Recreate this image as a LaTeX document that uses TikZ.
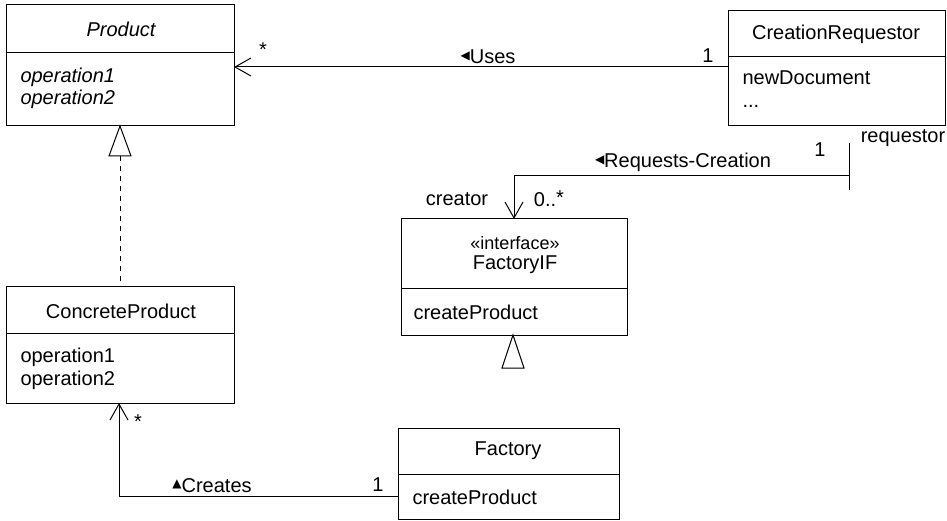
\documentclass[tikz,border=0pt]{standalone}
\usepackage{fontspec}
\setmainfont{Liberation Sans}
\newfontfamily\symfont{DejaVu Sans}
\usetikzlibrary{arrows.meta}
\newcommand{\ltri}{{\symfont\fontsize{12}{12}\selectfont\raisebox{4pt}{◀}}}
\newcommand{\utri}{{\symfont\fontsize{12}{12}\selectfont\raisebox{5pt}{▲}}}
\begin{document}
\begin{tikzpicture}[x=1pt,y=-1pt,line width=1pt,
  box/.style={draw,anchor=north west,inner sep=0pt,outer sep=0pt},
  txt/.style={inner sep=0pt,font=\fontsize{20}{24}\selectfont},
  ltxt/.style={txt,anchor=west},
  itxt/.style={ltxt,font=\fontsize{20}{24}\selectfont\itshape},
  barb/.style={-{Straight Barb[length=16pt,width=18pt,line width=1pt]}},
  gentri/.style={draw,line width=1pt,fill=white}
]
\useasboundingbox (0,0) rectangle (947,521);

% Product
\node[box,minimum width=228pt,minimum height=121pt] (product) at (6,5) {};
\draw (6,53) -- (234,53);
\node[txt,font=\fontsize{20}{24}\selectfont\itshape] (productT) at (121,29) {Product};
\node[itxt] (productO1) at (20,77) {operation1};
\node[itxt] (productO2) at (20,99) {operation2};

% CreationRequestor
\node[box,minimum width=217pt,minimum height=115pt] (creq) at (728,11) {};
\draw (728,57) -- (945,57);
\node[txt] (creqT) at (836,34) {CreationRequestor};
\node[ltxt] (creqO1) at (742,78) {newDocument};
\node[ltxt] (creqO2) at (742,106) {...};

% FactoryIF
\node[box,minimum width=226pt,minimum height=116pt] (fif) at (401,219) {};
\draw (401,288) -- (627,288);
\node[txt,font=\fontsize{18}{22}\selectfont] (fifS) at (515,243) {«interface»};
\node[txt] (fifT) at (515,265) {FactoryIF};
\node[ltxt] (fifO1) at (413,312) {createProduct};

% ConcreteProduct
\node[box,minimum width=228pt,minimum height=117pt] (cprod) at (6,286) {};
\draw (6,333) -- (234,333);
\node[txt] (cprodT) at (121,311) {ConcreteProduct};
\node[ltxt] (cprodO1) at (20,357) {operation1};
\node[ltxt] (cprodO2) at (20,380) {operation2};

% Factory
\node[box,minimum width=221pt,minimum height=91pt] (factory) at (398,428) {};
\draw (398,474) -- (619,474);
\node[txt] (factoryT) at (508,451) {Factory};
\node[ltxt] (factoryO1) at (412,497) {createProduct};

% Uses association
\draw[barb] (creq.west |- 0,67) -- (product.east |- 0,67);
\node[txt,anchor=base] (usesStar) at (263,57) {*};
\node[txt] (usesL) at (488,57) {\ltri Uses};
\node[txt] (usesOne) at (708,56) {1};

% Requests-Creation association
\coordinate (reqEnd) at (849,176);
\coordinate (reqBarTop) at (849,143);
\coordinate (reqBarBot) at (849,190);
\draw (reqBarTop) -- (reqBarBot);
\draw[barb] (reqEnd) -- (514,176) -- (fif.north -| 514,0);
\node[txt] (reqL) at (683,162) {\ltri Requests-Creation};
\node[txt] (reqOne) at (820,150) {1};
\node[txt] (reqRole) at (903,138) {requestor};
\node[txt] (creatorRole) at (457,199) {creator};
\node[txt] (creatorMult) at (549,199) {0..\raisebox{2pt}{*}};

% Generalization Product <- ConcreteProduct
\coordinate (pTriBase) at (120,156);
\draw[gentri] (120,126) -- (131,156) -- (109,156) -- cycle;
\draw[dashed,dash pattern=on 5pt off 5pt,line width=0.8pt] (pTriBase) -- (cprod.north -| pTriBase);

% Generalization triangle under FactoryIF
\draw[gentri] (513,335) -- (524,368) -- (502,368) -- cycle;

% Creates association
\coordinate (crCorner) at (119,496);
\draw[barb] (factory.west |- crCorner) -- (crCorner) -- (cprod.south -| crCorner);
\node[txt,anchor=base] (crStar) at (138,428) {*};
\node[txt] (crL) at (212,486) {\utri Creates};
\node[txt] (crOne) at (378,485) {1};
\end{tikzpicture}
\end{document}
